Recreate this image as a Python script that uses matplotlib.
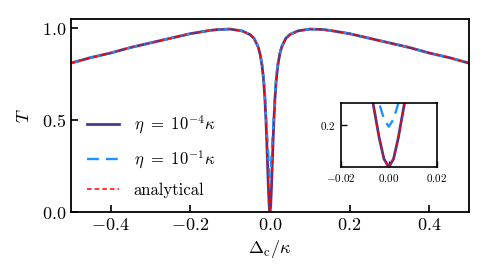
import matplotlib
matplotlib.use("Agg")
import matplotlib.pyplot as plt

# valores (Delta_c / kappa)
delta = [-0.5, -0.45, -0.4, -0.35, -0.3, -0.25, -0.2, -0.15, -0.13, -0.1, -0.07, -0.05,
         -0.04, -0.03, -0.025, -0.02, -0.016, -0.013, -0.01, -0.008, -0.006, -0.004,
         -0.002, 0.0, 0.002, 0.004, 0.006, 0.008, 0.01, 0.013, 0.016, 0.02, 0.025,
         0.03, 0.04, 0.05, 0.07, 0.1, 0.13, 0.15, 0.2, 0.25, 0.3, 0.35, 0.4, 0.45, 0.5]

T_small = [0.81, 0.84, 0.865, 0.895, 0.92, 0.945, 0.97, 0.988, 0.993, 0.995, 0.985, 0.965,
           0.945, 0.90, 0.862, 0.80, 0.72, 0.628, 0.50, 0.39, 0.265, 0.138,
           0.0385, 0.0, 0.0385, 0.138, 0.265, 0.39, 0.50, 0.628, 0.72, 0.80, 0.862,
           0.90, 0.945, 0.965, 0.985, 0.995, 0.993, 0.988, 0.97, 0.945, 0.92, 0.895, 0.865, 0.84, 0.81]

T_large = [0.81, 0.84, 0.865, 0.895, 0.92, 0.945, 0.97, 0.988, 0.993, 0.995, 0.985, 0.966,
           0.946, 0.902, 0.866, 0.805, 0.735, 0.655, 0.53, 0.45, 0.38, 0.30,
           0.225, 0.19, 0.225, 0.30, 0.38, 0.45, 0.53, 0.655, 0.735, 0.805, 0.866,
           0.902, 0.946, 0.966, 0.985, 0.995, 0.993, 0.988, 0.97, 0.945, 0.92, 0.895, 0.865, 0.84, 0.81]

T_analytical = list(T_small)

labels = [r"$\eta\ =\ 10^{-4}\kappa$", r"$\eta\ =\ 10^{-1}\kappa$", "analytical"]
x_ticks = [-0.4, -0.2, 0.0, 0.2, 0.4]
y_ticks = [0.0, 0.5, 1.0]
inset_x_ticks = [-0.02, 0.0, 0.02]
inset_y_ticks = [0.2]

plt.rcParams["font.family"] = "serif"
plt.rcParams["font.serif"] = ["cmr10"]
plt.rcParams["mathtext.fontset"] = "cm"
plt.rcParams["axes.formatter.use_mathtext"] = True
plt.rcParams["axes.unicode_minus"] = True

c_solid = "#4a3a8c"
c_dash = "#1e90ff"
c_red = "red"

fig = plt.figure(figsize=(4.89, 2.79), dpi=100)
ax = fig.add_axes([0.145, 0.24, 0.814, 0.692])

ax.plot(delta, T_small, color=c_solid, lw=2.0, label=labels[0])
ax.plot(delta, T_large, color=c_dash, lw=1.7, ls=(0, (5, 3)), label=labels[1])
ax.plot(delta, T_analytical, color=c_red, lw=1.1, ls=(0, (3, 2)), label=labels[2])

ax.set_xlim(-0.5, 0.5)
ax.set_ylim(0, 1.05)
ax.set_xticks(x_ticks)
ax.set_yticks(y_ticks)
ax.set_xlabel(r"$\Delta_\mathrm{c}/\kappa$", fontsize=13)
ax.set_ylabel(r"$T$", fontsize=13, labelpad=7)
ax.tick_params(direction="in", labelsize=13, width=1.2, length=5)
for s in ax.spines.values():
    s.set_linewidth(1.3)

ax.legend(loc="lower left", frameon=False, fontsize=12, handlelength=1.9,
          handletextpad=0.9, labelspacing=0.72, borderaxespad=0.45,
          bbox_to_anchor=(0.005, 0.0))

# inset
axi = fig.add_axes([0.697, 0.401, 0.196, 0.229])
axi.plot(delta, T_small, color=c_solid, lw=2.0)
axi.plot(delta, T_large, color=c_dash, lw=1.7, ls=(0, (5, 3)))
axi.plot(delta, T_analytical, color=c_red, lw=1.1, ls=(0, (3, 2)))
axi.set_xlim(-0.02, 0.02)
axi.set_ylim(0, 0.3)
axi.set_xticks(inset_x_ticks)
axi.set_yticks(inset_y_ticks)
axi.tick_params(direction="in", labelsize=8, width=1.0, length=4)
for s in axi.spines.values():
    s.set_linewidth(1.2)

fig.savefig("out.png", dpi=100)
